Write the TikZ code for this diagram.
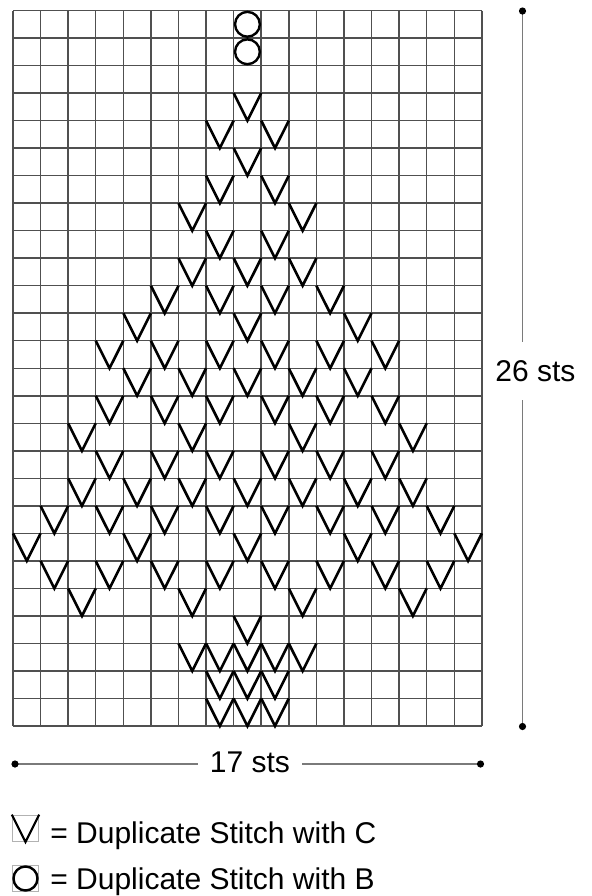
\documentclass[tikz,border=0pt]{standalone}
\usepackage{fontspec}
\setmainfont{Liberation Sans}
\usetikzlibrary{positioning}
\definecolor{gridgray}{HTML}{505050}
\definecolor{dimgray}{HTML}{7A7A7A}

\begin{document}
\begin{tikzpicture}[x=0.5pt,y=-0.5pt,
	gridline/.style={gridgray,line width=0.75pt},
	vst/.style={black,line width=1.3pt,line join=miter},
	ost/.style={black,line width=1.2pt},
	dim/.style={dimgray,line width=0.8pt},
	lab/.style={font=\fontsize{15}{18}\selectfont,inner sep=0pt},
	keybox/.style={draw=gray!60,line width=0.7pt,minimum size=13pt,inner sep=0pt}]
	\useasboundingbox (0,0) rectangle (592,896);
	
	% Chart: 17 sts x 26 rows
	\begin{scope}[shift={(13,10.5)},x=13.79pt,y=-13.76pt]
		\foreach \i in {0,...,17} \draw[gridline] (\i,0) -- (\i,26);
		\foreach \j in {0,...,26} \draw[gridline] (0,\j) -- (17,\j);
		
		% Duplicate Stitch with B
		\foreach \r in {0,1} \draw[ost] (8.5,\r+.5) circle (6.2pt);
		
		% Duplicate Stitch with C
		\foreach \r/\cols in {3/{8},4/{7,9},5/{8},6/{7,9},7/{6,10},8/{7,9},
			9/{6,8,10},10/{5,7,9,11},11/{4,8,12},12/{3,5,7,9,11,13},
			13/{4,6,8,10,12},14/{3,5,7,9,11,13},15/{2,6,10,14},
			16/{3,5,7,9,11,13},17/{2,4,6,8,10,12,14},18/{1,3,5,7,9,11,13,15},
			19/{0,4,8,12,16},20/{1,3,5,7,9,11,13,15},21/{2,6,10,14},
			22/{8},23/{6,7,8,9,10},24/{7,8,9},25/{7,8,9}}
		{
			\foreach \c in \cols \draw[vst] (\c,\r) -- ++(.5,1) -- ++(.5,-1);
		}
	\end{scope}
	
	% Height
	\coordinate (htop) at (522.5,11);
	\coordinate (hbot) at (522.5,726.5);
	\node[lab,inner ysep=9pt] (hlab) at (535.5,371) {26 sts};
	\draw[dim] (htop) -- (htop |- hlab.north);
	\draw[dim] (hbot |- hlab.south) -- (hbot);
	\fill (htop) circle (1.8pt);
	\fill (hbot) circle (1.8pt);
	
	% Width
	\coordinate (wleft) at (15,764);
	\coordinate (wright) at (480.5,764);
	\node[lab,inner xsep=6pt] (wlab) at (250,762) {17 sts};
	\draw[dim] (wleft) -- (wleft -| wlab.west);
	\draw[dim] (wright -| wlab.east) -- (wright);
	\fill (wleft) circle (1.8pt);
	\fill (wright) circle (1.8pt);
	
	% Key
	\node[keybox] (keyV) at (25.5,828.3) {};
	\draw[vst,line width=1.1pt] (keyV.north west) -- (keyV.south) -- (keyV.north east);
	\node[lab,anchor=base west] (keyVtxt) at (50,843) {= Duplicate Stitch with C};
	
	\node[keybox] (keyO) at (25.5,878.5) {};
	\draw[ost] (keyO) circle (6pt);
	\node[lab,anchor=base west] (keyOtxt) at (50,889) {= Duplicate Stitch with B};
\end{tikzpicture}
\end{document}
